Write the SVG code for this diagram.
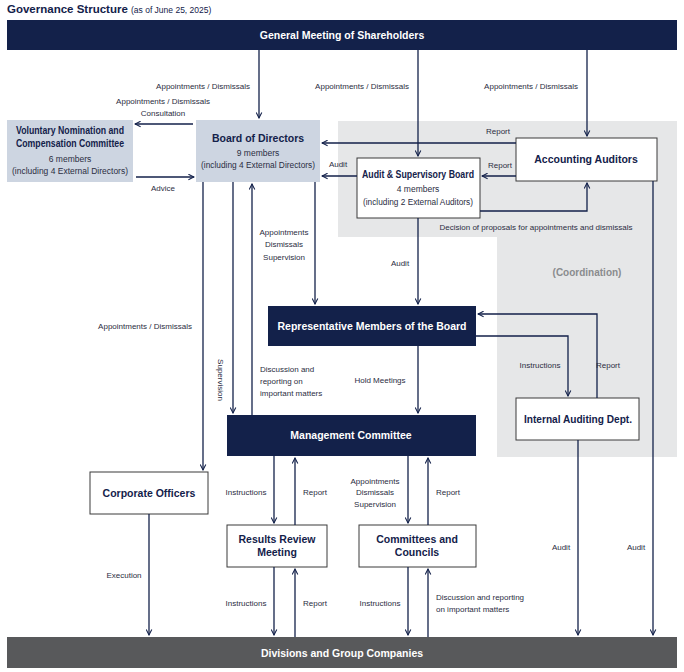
<svg xmlns="http://www.w3.org/2000/svg" width="684" height="672" viewBox="0 0 684 672">
<style>
text{font-family:"Liberation Sans","Roboto",sans-serif;}
.l{font-size:8px;fill:#2b2d42;text-anchor:middle;}
.la{font-size:8px;fill:#2b2d42;text-anchor:start;}
.t{font-size:10.5px;font-weight:bold;fill:#13214a;text-anchor:middle;}
.tw{font-size:10.5px;font-weight:bold;fill:#fff;text-anchor:middle;}
.s{font-size:8.5px;fill:#2b2d42;text-anchor:middle;}
.navy{fill:#13214a;}
.blue{fill:#cdd5e1;}
.wb{fill:#fff;stroke:#3a3a3a;stroke-width:1;}
.c line,.c polyline{stroke:#13214a;stroke-width:1.3;fill:none;marker-end:url(#a);}
</style>
<defs>
<marker id="a" viewBox="0 0 10 10" refX="9" refY="5" markerWidth="7" markerHeight="7" orient="auto" markerUnits="userSpaceOnUse">
<polyline points="1,1 9,5 1,9" fill="none" stroke="#13214a" stroke-width="1.5"/>
</marker>
</defs>
<rect width="684" height="672" fill="#fff"/>
<text x="7" y="13" style="font-size:11.5px;font-weight:bold;fill:#13214a">Governance Structure <tspan style="font-size:8.5px;font-weight:normal">(as of June 25, 2025)</tspan></text>
<polygon points="338,121 677,121 677,457 497,457 497,237 338,237" fill="#e6e7e8"/>
<text x="587" y="276" style="font-size:10px;font-weight:bold;fill:#8a8c8e;text-anchor:middle">(Coordination)</text>

<g id="shareholders"><rect class="navy" x="7" y="20" width="670" height="30"/><text class="tw" x="342" y="39">General Meeting of Shareholders</text></g>
<g id="voluntary"><rect class="blue" x="7" y="120" width="126" height="62"/><text class="t" x="70" y="134" textLength="108" lengthAdjust="spacingAndGlyphs">Voluntary Nomination and</text><text class="t" x="70" y="147" textLength="108" lengthAdjust="spacingAndGlyphs">Compensation Committee</text><text class="s" x="70" y="162">6 members</text><text class="s" x="70" y="174" textLength="116" lengthAdjust="spacingAndGlyphs">(including 4 External Directors)</text></g>
<g id="board"><rect class="blue" x="196" y="120" width="124" height="62"/><text class="t" x="258" y="142">Board of Directors</text><text class="s" x="258" y="156">9 members</text><text class="s" x="258" y="168" textLength="114" lengthAdjust="spacingAndGlyphs">(including 4 External Directors)</text></g>
<g id="asb"><rect class="wb" x="357" y="158" width="123" height="60"/><text class="t" x="418" y="178" textLength="112" lengthAdjust="spacingAndGlyphs">Audit &amp; Supervisory Board</text><text class="s" x="418" y="192">4 members</text><text class="s" x="418" y="205" textLength="110" lengthAdjust="spacingAndGlyphs">(including 2 External Auditors)</text></g>
<g id="accounting"><rect class="wb" x="516" y="138" width="141" height="43"/><text class="t" x="586" y="163">Accounting Auditors</text></g>
<g id="rep"><rect class="navy" x="268" y="306" width="208" height="40"/><text class="tw" x="372" y="330">Representative Members of the Board</text></g>
<g id="internal"><rect class="wb" x="516" y="398" width="123" height="42"/><text class="t" x="578" y="423" textLength="108" lengthAdjust="spacingAndGlyphs">Internal Auditing Dept.</text></g>
<g id="management"><rect class="navy" x="227" y="415" width="249" height="41"/><text class="tw" x="351" y="439">Management Committee</text></g>
<g id="officers"><rect class="wb" x="90" y="472" width="118" height="42"/><text class="t" x="149" y="497">Corporate Officers</text></g>
<g id="results"><rect class="wb" x="227" y="525" width="100" height="42"/><text class="t" x="277" y="543">Results Review</text><text class="t" x="277" y="556">Meeting</text></g>
<g id="committees"><rect class="wb" x="359" y="525" width="117" height="42"/><text class="t" x="417" y="543">Committees and</text><text class="t" x="417" y="556">Councils</text></g>
<g id="divisions"><rect x="7" y="637" width="670" height="31" fill="#58595b"/><text class="tw" x="342" y="657">Divisions and Group Companies</text></g>

<g class="c" id="connectors">
<line x1="259" y1="50" x2="259" y2="118"/>
<line x1="418" y1="50" x2="418" y2="156"/>
<line x1="587" y1="50" x2="587" y2="136"/>
<line x1="193" y1="124" x2="135" y2="124"/>
<line x1="136" y1="177" x2="194" y2="177"/>
<line x1="516" y1="143" x2="322" y2="143"/>
<line x1="516" y1="176" x2="482" y2="176"/>
<line x1="357" y1="176" x2="322" y2="176"/>
<polyline points="480,211 587,211 587,183"/>
<line x1="418" y1="218" x2="418" y2="304"/>
<line x1="203" y1="182" x2="203" y2="470"/>
<line x1="233" y1="182" x2="233" y2="413"/>
<line x1="252" y1="415" x2="252" y2="184"/>
<line x1="315" y1="182" x2="315" y2="304"/>
<line x1="418" y1="346" x2="418" y2="413"/>
<polyline points="476,336 568,336 568,396"/>
<polyline points="597,398 597,314 478,314"/>
<line x1="578" y1="440" x2="578" y2="635"/>
<line x1="653" y1="181" x2="653" y2="635"/>
<line x1="274" y1="456" x2="274" y2="523"/>
<line x1="295" y1="525" x2="295" y2="458"/>
<line x1="408" y1="456" x2="408" y2="523"/>
<line x1="428" y1="525" x2="428" y2="458"/>
<line x1="149" y1="514" x2="149" y2="635"/>
<line x1="274" y1="567" x2="274" y2="635"/>
<line x1="295" y1="637" x2="295" y2="569"/>
<line x1="408" y1="567" x2="408" y2="635"/>
<line x1="428" y1="637" x2="428" y2="569"/>
</g>
<g id="labels">
<text class="l" x="203" y="89">Appointments / Dismissals</text>
<text class="l" x="362" y="89">Appointments / Dismissals</text>
<text class="l" x="531" y="89">Appointments / Dismissals</text>
<text class="l" x="163" y="104">Appointments / Dismissals</text>
<text class="l" x="163" y="116">Consultation</text>
<text class="l" x="163" y="191">Advice</text>
<text class="l" x="498" y="134">Report</text>
<text class="l" x="500" y="168">Report</text>
<text class="l" x="338" y="167">Audit</text>
<text class="l" x="536" y="230">Decision of proposals for appointments and dismissals</text>
<text class="l" x="400" y="266">Audit</text>
<text class="l" x="284" y="235">Appointments</text>
<text class="l" x="284" y="247">Dismissals</text>
<text class="l" x="284" y="260">Supervision</text>
<text class="l" x="145" y="329">Appointments / Dismissals</text>
<text class="l" transform="translate(218,380) rotate(90)">Supervision</text>
<text class="la" x="260" y="372">Discussion and</text>
<text class="la" x="260" y="384">reporting on</text>
<text class="la" x="260" y="396">important matters</text>
<text class="l" x="380" y="383">Hold Meetings</text>
<text class="l" x="540" y="368">Instructions</text>
<text class="l" x="608" y="368">Report</text>
<text class="l" x="246" y="495">Instructions</text>
<text class="l" x="315" y="495">Report</text>
<text class="l" x="375" y="484">Appointments</text>
<text class="l" x="375" y="495">Dismissals</text>
<text class="l" x="375" y="507">Supervision</text>
<text class="l" x="448" y="495">Report</text>
<text class="l" x="124" y="578">Execution</text>
<text class="l" x="561" y="550">Audit</text>
<text class="l" x="636" y="550">Audit</text>
<text class="l" x="246" y="606">Instructions</text>
<text class="l" x="315" y="606">Report</text>
<text class="l" x="380" y="606">Instructions</text>
<text class="la" x="436" y="600">Discussion and reporting</text>
<text class="la" x="436" y="612">on important matters</text>
</g>
</svg>
